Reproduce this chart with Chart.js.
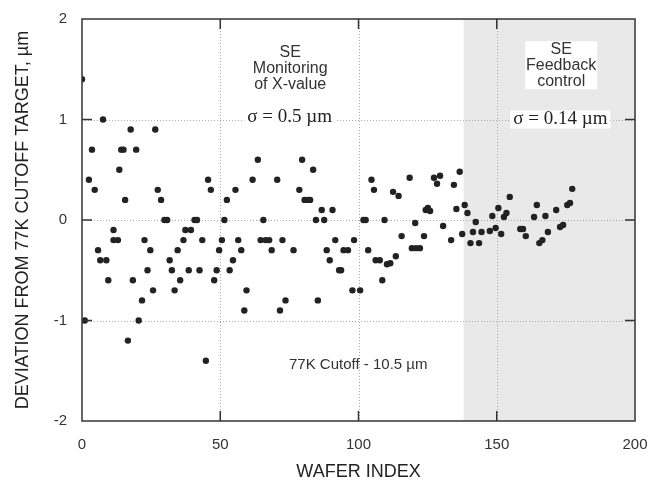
<!DOCTYPE html>
<html lang="en">
<head>
    <meta charset="UTF-8">
    <title>Wafer deviation</title>
    <script src="https://cdn.jsdelivr.net/npm/chart.js"></script>
    <style>
        body { margin: 0; background: #fff; }
        #wrap { width: 660px; height: 481px; }
    </style>
</head>
<body>
<div id="wrap"><canvas id="devChart" width="660" height="481"></canvas></div>
<script>
    // wafer index and deviation (um)
    const waferIdx = [
        0, 1, 2.5, 3.6, 4.6, 5.8, 6.6, 7.6, 8.8, 9.5, 11.4, 11.4, 13, 13.5, 14.2, 15, 15.6, 16.6, 17.6, 18.4,
        19.6, 20.5, 21.7, 22.6, 23.7, 24.7, 25.7, 26.5, 27.4, 28.6, 29.8, 30.8, 31.7, 32.5, 33.5, 34.6, 35.5, 36.7, 37.4, 38.6,
        39.4, 40.7, 41.6, 42.5, 43.5, 44.8, 45.6, 46.6, 47.8, 48.7, 49.6, 50.6, 51.5, 52.4, 53.4, 54.6, 55.5, 56.5, 57.6, 58.7,
        59.5, 61.7, 63.6, 64.6, 65.6, 66.4, 67.7, 68.6, 70.6, 71.6, 72.5, 73.6, 76.5, 78.6, 79.6, 80.5, 81.7, 82.5, 83.6, 84.6,
        85.3, 86.7, 87.6, 88.5, 89.6, 90.6, 91.6, 93, 93.7, 94.6, 96.2, 97.8, 98.4, 100.6, 101.8, 102.6, 103.5, 104.7, 105.6, 106.2,
        107.7, 108.6, 109.4, 110.3, 111.5, 112.5, 113.5, 114.5, 115.6, 118.5, 119.3, 120.5, 120.8, 122.2, 123.7, 124.3, 125.1, 125.9, 127.3, 128.4,
        129.5, 130.6, 133.5, 134.5, 135.4, 136.6, 137.5, 138.4, 139.4, 140.5, 141.4, 142.4, 143.6, 144.5, 147.5, 148.4, 149.6, 150.6, 151.6, 152.6,
        153.5, 154.7, 158.5, 159.5, 160.5, 163.5, 164.5, 165.4, 166.5, 167.6, 168.5, 171.5, 172.9, 174, 175.5, 176.5, 177.3
    ];
    const deviation = [
        1.4, -1.0, 0.4, 0.7, 0.3, -0.3, -0.4, 1.0, -0.4, -0.6, -0.1, -0.2, -0.2, 0.5, 0.7, 0.7, 0.2, -1.2, 0.9, -0.6,
        0.7, -1.0, -0.8, -0.2, -0.5, -0.3, -0.7, 0.9, 0.3, 0.2, 0, 0, -0.4, -0.5, -0.7, -0.3, -0.6, -0.2, -0.1, -0.5,
        -0.1, 0, 0, -0.5, -0.2, -1.4, 0.4, 0.3, -0.6, -0.5, -0.3, -0.2, 0, 0.2, -0.5, -0.4, 0.3, -0.2, -0.3, -0.9,
        -0.7, 0.4, 0.6, -0.2, 0, -0.2, -0.2, -0.3, 0.4, -0.9, -0.2, -0.8, -0.3, 0.3, 0.6, 0.2, 0.2, 0.2, 0.5, 0,
        -0.8, 0.1, 0, -0.3, -0.4, 0.1, -0.2, -0.5, -0.5, -0.3, -0.3, -0.7, -0.2, -0.7, 0, 0, -0.3, 0.4, 0.3, -0.4,
        -0.4, -0.6, 0, -0.44, -0.43, 0.28, -0.36, 0.24, -0.16, 0.42, -0.28, -0.03, -0.28, -0.28, -0.16, 0.1, 0.12, 0.09, 0.42, 0.36,
        0.44, -0.06, -0.2, 0.35, 0.11, 0.48, -0.14, 0.15, 0.07, -0.23, -0.12, -0.02, -0.23, -0.12, -0.11, 0.04, -0.08, 0.12, -0.14, 0.03,
        0.07, 0.23, -0.09, -0.09, -0.16, 0.03, 0.15, -0.23, -0.2, 0.04, -0.12, 0.1, -0.07, -0.05, 0.15, 0.17, 0.31
    ];
    const xTicks = [0, 50, 100, 150, 200];
    const yTicks = [-2, -1, 0, 1, 2];
    const feedbackStart = 138;   // shaded region: SE feedback control

    const sans = '"Liberation Sans", Arial, sans-serif';
    const serif = '"Liberation Serif", "Times New Roman", serif';

    // shading, dotted grid, frame, inward ticks and the text notes
    const decor = {
        id: 'decor',
        beforeDatasetsDraw(chart) {
            const {ctx, chartArea: a, scales: {x, y}} = chart;
            ctx.save();
            const sx = x.getPixelForValue(feedbackStart);
            ctx.fillStyle = '#e9e9e9';
            ctx.fillRect(sx, a.top, a.right - sx, a.bottom - a.top);

            ctx.strokeStyle = '#a8a8a8';
            ctx.lineWidth = 1;
            ctx.setLineDash([1, 2]);
            xTicks.slice(1, -1).forEach(v => {
                const px = Math.round(x.getPixelForValue(v)) + 0.5;
                ctx.beginPath(); ctx.moveTo(px, a.top); ctx.lineTo(px, a.bottom); ctx.stroke();
            });
            yTicks.slice(1, -1).forEach(v => {
                const py = Math.round(y.getPixelForValue(v)) + 0.5;
                ctx.beginPath(); ctx.moveTo(a.left, py); ctx.lineTo(a.right, py); ctx.stroke();
            });
            ctx.restore();
        },
        afterDatasetsDraw(chart) {
            const {ctx, chartArea: a, scales: {x, y}} = chart;
            ctx.save();
            // frame
            ctx.strokeStyle = '#333';
            ctx.lineWidth = 1.5;
            ctx.strokeRect(a.left, a.top, a.right - a.left, a.bottom - a.top);
            // inward tick marks
            ctx.lineWidth = 1.5;
            xTicks.slice(1, -1).forEach(v => {
                const px = x.getPixelForValue(v);
                ctx.beginPath();
                ctx.moveTo(px, a.top); ctx.lineTo(px, a.top + 10);
                ctx.moveTo(px, a.bottom); ctx.lineTo(px, a.bottom - 10);
                ctx.stroke();
            });
            yTicks.slice(1, -1).forEach(v => {
                const py = y.getPixelForValue(v);
                ctx.beginPath();
                ctx.moveTo(a.left, py); ctx.lineTo(a.left + 10, py);
                ctx.moveTo(a.right, py); ctx.lineTo(a.right - 10, py);
                ctx.stroke();
            });

            ctx.textAlign = 'center';
            ctx.textBaseline = 'middle';
            ctx.fillStyle = '#333';

            // left note
            ctx.font = '16px ' + sans;
            let cx = x.getPixelForValue(75.3), cy = y.getPixelForValue(1.51);
            ['SE', 'Monitoring', 'of X-value'].forEach((t, i) => ctx.fillText(t, cx, cy + (i - 1) * 16));

            ctx.font = '19px ' + serif;
            cx = x.getPixelForValue(75.1); cy = y.getPixelForValue(1.02);
            let w = ctx.measureText('\u03c3 = 0.5 \u00b5m').width;
            ctx.fillStyle = '#fff';
            ctx.fillRect(cx - w / 2 - 3, cy - 9, w + 6, 18);
            ctx.fillStyle = '#222';
            ctx.fillText('\u03c3 = 0.5 \u00b5m', cx, cy);

            // right note with white boxes
            cx = x.getPixelForValue(173.3); cy = y.getPixelForValue(1.54);
            ctx.fillStyle = '#fff';
            ctx.fillRect(cx - 36, cy - 24, 72, 48);
            ctx.fillStyle = '#333';
            ctx.font = '16px ' + sans;
            ['SE', 'Feedback', 'control'].forEach((t, i) => ctx.fillText(t, cx, cy + (i - 1) * 16));

            ctx.font = '19px ' + serif;
            cx = x.getPixelForValue(173); cy = y.getPixelForValue(1.0);
            w = ctx.measureText('\u03c3 = 0.14 \u00b5m').width;
            ctx.fillStyle = '#fff';
            ctx.fillRect(cx - w / 2 - 3, cy - 9, w + 6, 18);
            ctx.fillStyle = '#222';
            ctx.fillText('\u03c3 = 0.14 \u00b5m', cx, cy);

            // cutoff note
            ctx.font = '15px ' + sans;
            ctx.fillStyle = '#333';
            ctx.fillText('77K Cutoff - 10.5 \u00b5m', x.getPixelForValue(99.9), y.getPixelForValue(-1.44));
            ctx.restore();
        }
    };

    const points = waferIdx.map((v, i) => ({x: v, y: deviation[i]}));

    new Chart(document.getElementById('devChart'), {
        type: 'scatter',
        data: {
            datasets: [{
                data: points,
                backgroundColor: '#222',
                borderWidth: 0,
                pointRadius: 3.2,
                pointHoverRadius: 3.2
            }]
        },
        options: {
            responsive: false,
            animation: false,
            devicePixelRatio: 1,
            layout: { padding: { top: 19, right: 25, left: 0, bottom: 0 } },
            plugins: { legend: { display: false }, tooltip: { enabled: false } },
            scales: {
                x: {
                    type: 'linear', min: 0, max: 200,
                    afterFit: s => { s.height = 60; },
                    afterBuildTicks: s => { s.ticks = xTicks.map(v => ({value: v})); },
                    grid: { display: false },
                    border: { display: false },
                    ticks: { font: { family: sans, size: 15 }, color: '#333', padding: 7 },
                    title: {
                        display: true, text: 'WAFER INDEX', color: '#222',
                        font: { family: sans, size: 18, lineHeight: 1 },
                        padding: { top: 0, bottom: 0 }
                    }
                },
                y: {
                    type: 'linear', min: -2, max: 2,
                    afterFit: s => { s.width = 82; },
                    afterBuildTicks: s => { s.ticks = yTicks.map(v => ({value: v})); },
                    grid: { display: false },
                    border: { display: false },
                    ticks: { font: { family: sans, size: 15 }, color: '#333', padding: 7 },
                    title: {
                        display: true, text: 'DEVIATION FROM 77K CUTOFF TARGET, \u00b5m', color: '#222',
                        font: { family: sans, size: 18, lineHeight: 1 },
                        padding: { top: 14, bottom: 0 }
                    }
                }
            }
        },
        plugins: [decor]
    });
</script>
</body>
</html>
